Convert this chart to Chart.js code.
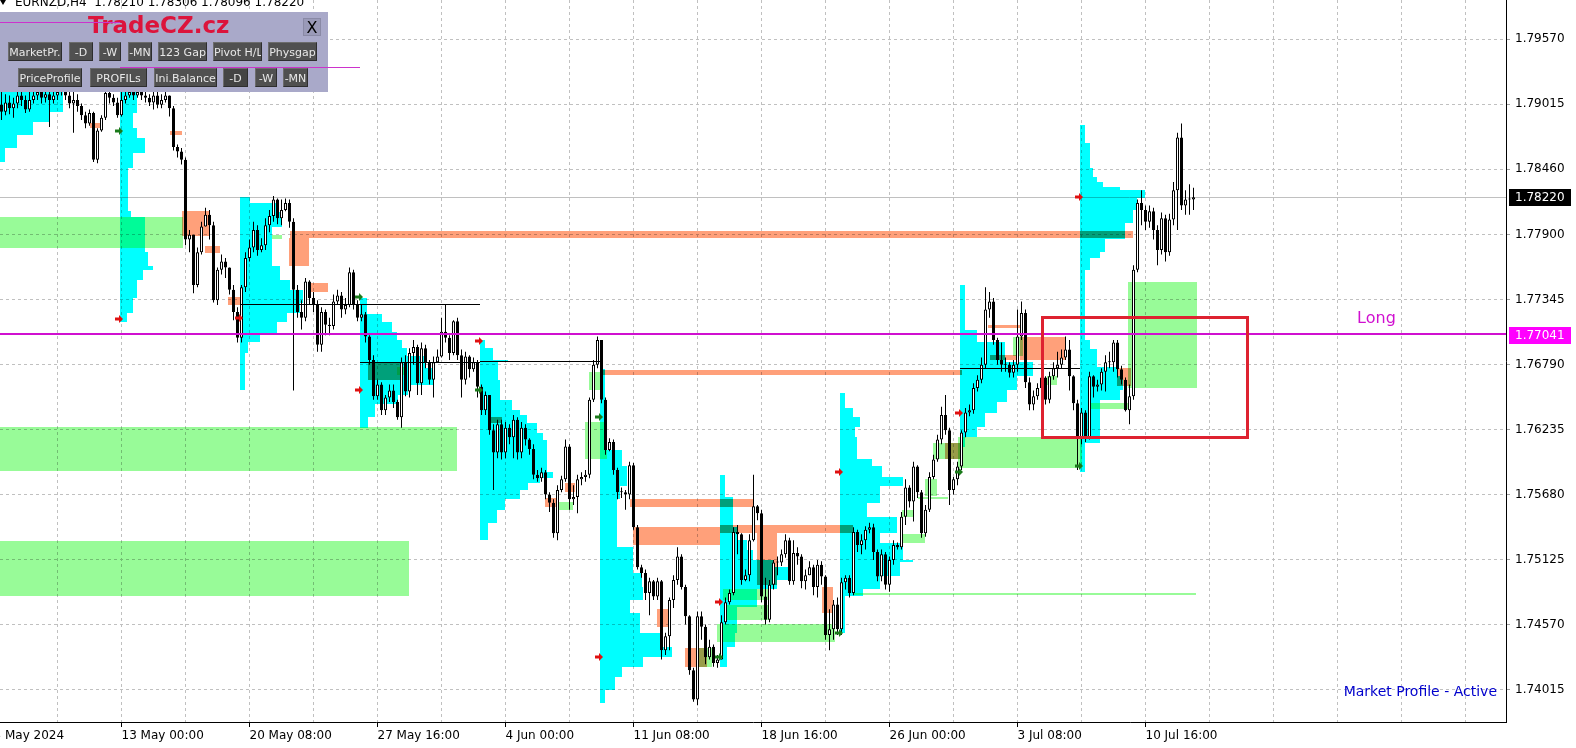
<!DOCTYPE html>
<html>
<head>
<meta charset="utf-8">
<script src="https://cdn.jsdelivr.net/npm/chart.js@4.4.1/dist/chart.umd.min.js"></script>
<style>
  html, body { margin: 0; padding: 0; background: #fff; overflow: hidden; }
  #wrap { position: relative; width: 1576px; height: 748px; }
  canvas { display: block; }
  #title { position: absolute; left: 15px; top: -5px; font: 12px "DejaVu Sans"; line-height: 14px; color: #000; white-space: pre; }
  #tri { position: absolute; left: 0; top: 0; width: 0; height: 0; border-left: 3px solid transparent; border-right: 3px solid transparent; border-top: 5px solid #000; }
  #panel { position: absolute; left: 0; top: 12px; width: 328px; height: 80px; background: #a9a9c9; }
  #brand { position: absolute; left: 88px; top: 0; font: bold 23px "DejaVu Sans"; line-height: 26px; color: #dc143c; }
  #close { position: absolute; left: 303px; top: 6px; width: 18px; height: 18px; background: #9a9ab8; border: 1px solid #8a8aa6; font: 16px "DejaVu Sans"; line-height: 18px; text-align: center; color: #000; box-sizing: border-box; }
  .btn { position: absolute; height: 19px; background: #505050; color: #e8e8e8; font: 11px "DejaVu Sans"; line-height: 19px; text-align: center; overflow: hidden; white-space: nowrap; box-sizing: border-box; border-top: 1px solid #6c6c6c; border-left: 1px solid #6c6c6c; border-bottom: 1px solid #2e2e2e; border-right: 1px solid #2e2e2e; }
  .wl { position: absolute; height: 1px; background: #cc33cc; }
  #mpa { position: absolute; right: 79px; top: 683px; font: 14px "DejaVu Sans"; line-height: 17px; color: #0000cd; }
</style>
</head>
<body>
<div id="wrap">
  <canvas id="chart" width="1576" height="748"></canvas>
  <div id="tri"></div>
  <div id="title">EURNZD,H4  1.78210 1.78306 1.78096 1.78220</div>
  <div id="panel">
    <div id="brand">TradeCZ.cz</div>
    <div id="close">X</div>
    <div class="btn" style="left:8px;top:30px;width:54px">MarketPr.</div>
    <div class="btn" style="left:69px;top:30px;width:24px">-D</div>
    <div class="btn" style="left:99px;top:30px;width:22px">-W</div>
    <div class="btn" style="left:128px;top:30px;width:24px">-MN</div>
    <div class="btn" style="left:158px;top:30px;width:49px">123 Gap</div>
    <div class="btn" style="left:213px;top:30px;width:49px">Pivot H/L</div>
    <div class="btn" style="left:268px;top:30px;width:49px">Physgap</div>
    <div class="btn" style="left:18px;top:56px;width:64px">PriceProfile</div>
    <div class="btn" style="left:90px;top:56px;width:57px">PROFILs</div>
    <div class="btn" style="left:154px;top:56px;width:63px">Ini.Balance</div>
    <div class="btn" style="left:223px;top:56px;width:25px;background:#444">-D</div>
    <div class="btn" style="left:255px;top:56px;width:22px">-W</div>
    <div class="btn" style="left:283px;top:56px;width:25px">-MN</div>
  </div>
  <div id="mpa">Market Profile - Active</div>
</div>
<script>
/* global Chart */

// EURNZD H4, one entry per bar (bar 0 = 6 May 00:00)
const firstOpen = 1.7901

const highs = [
  1.7912, 1.7910, 1.7909, 1.7907, 1.7914, 1.7912, 1.7909, 1.7912, 1.7915, 1.7917,
  1.7915, 1.7915, 1.7914, 1.7915, 1.7918, 1.7918, 1.7917, 1.7912, 1.7914, 1.7910,
  1.7902, 1.7895, 1.7897, 1.7895, 1.7881, 1.7892, 1.7914, 1.7915, 1.7910, 1.7907,
  1.7912, 1.7915, 1.7917, 1.7915, 1.7917, 1.7915, 1.7914, 1.7910, 1.7914, 1.7912,
  1.7910, 1.7915, 1.7909, 1.7900, 1.7867, 1.7864, 1.7856, 1.7794, 1.7790, 1.7779,
  1.7801, 1.7813, 1.7811, 1.7801, 1.7762, 1.7773, 1.7770, 1.7762, 1.7747, 1.7728,
  1.7747, 1.7775, 1.7786, 1.7801, 1.7798, 1.7787, 1.7804, 1.7811, 1.7823, 1.7821,
  1.7820, 1.7821, 1.7820, 1.7804, 1.7747, 1.7734, 1.7753, 1.7751, 1.7741, 1.7734,
  1.7728, 1.7726, 1.7719, 1.7739, 1.7743, 1.7741, 1.7736, 1.7762, 1.7760, 1.7734,
  1.7730, 1.7724, 1.7704, 1.7687, 1.7666, 1.7664, 1.7653, 1.7662, 1.7662, 1.7649,
  1.7685, 1.7687, 1.7693, 1.7700, 1.7696, 1.7698, 1.7696, 1.7683, 1.7686, 1.7692,
  1.7719, 1.7730, 1.7704, 1.7717, 1.7719, 1.7692, 1.7690, 1.7687, 1.7685, 1.7683,
  1.7662, 1.7656, 1.7653, 1.7628, 1.7632, 1.7632, 1.7630, 1.7628, 1.7636, 1.7634,
  1.7630, 1.7628, 1.7616, 1.7611, 1.7589, 1.7591, 1.7589, 1.7570, 1.7564, 1.7576,
  1.7584, 1.7615, 1.7611, 1.7576, 1.7585, 1.7587, 1.7589, 1.7651, 1.7683, 1.7703,
  1.7700, 1.7651, 1.7616, 1.7615, 1.7591, 1.7574, 1.7572, 1.7596, 1.7595, 1.7542,
  1.7508, 1.7504, 1.7497, 1.7495, 1.7497, 1.7495, 1.7450, 1.7480, 1.7499, 1.7523,
  1.7517, 1.7491, 1.7465, 1.7420, 1.7468, 1.7468, 1.7457, 1.7444, 1.7440, 1.7431,
  1.7465, 1.7480, 1.7487, 1.7540, 1.7542, 1.7535, 1.7504, 1.7534, 1.7585, 1.7559,
  1.7555, 1.7497, 1.7495, 1.7512, 1.7515, 1.7521, 1.7534, 1.7531, 1.7529, 1.7523,
  1.7517, 1.7504, 1.7511, 1.7508, 1.7512, 1.7511, 1.7499, 1.7470, 1.7478, 1.7480,
  1.7497, 1.7499, 1.7499, 1.7540, 1.7538, 1.7534, 1.7541, 1.7544, 1.7543, 1.7521,
  1.7521, 1.7519, 1.7515, 1.7529, 1.7527, 1.7553, 1.7581, 1.7576, 1.7596, 1.7593,
  1.7572, 1.7559, 1.7587, 1.7602, 1.7619, 1.7643, 1.7653, 1.7625, 1.7583, 1.7596,
  1.7623, 1.7642, 1.7645, 1.7663, 1.7670, 1.7685, 1.7745, 1.7741, 1.7736, 1.7702,
  1.7698, 1.7685, 1.7681, 1.7683, 1.7726, 1.7733, 1.7726, 1.7668, 1.7657, 1.7663,
  1.7673, 1.7669, 1.7673, 1.7681, 1.7690, 1.7692, 1.7703, 1.7700, 1.7670, 1.7649,
  1.7642, 1.7640, 1.7673, 1.7670, 1.7666, 1.7676, 1.7687, 1.7690, 1.7700, 1.7700,
  1.7678, 1.7668, 1.7662, 1.7764, 1.7820, 1.7828, 1.7815, 1.7815, 1.7813, 1.7798,
  1.7809, 1.7807, 1.7808, 1.7835, 1.7877, 1.7885, 1.7828, 1.7833, 1.7830
]

const lows = [
  1.7888, 1.7892, 1.7893, 1.7890, 1.7898, 1.7900, 1.7894, 1.7895, 1.7902, 1.7905,
  1.7902, 1.7903, 1.7882, 1.7902, 1.7905, 1.7909, 1.7905, 1.7898, 1.7877, 1.7895,
  1.7888, 1.7881, 1.7883, 1.7852, 1.7851, 1.7878, 1.7888, 1.7902, 1.7900, 1.7890,
  1.7891, 1.7902, 1.7907, 1.7905, 1.7907, 1.7905, 1.7903, 1.7900, 1.7897, 1.7898,
  1.7898, 1.7903, 1.7891, 1.7862, 1.7856, 1.7850, 1.7781, 1.7775, 1.7740, 1.7745,
  1.7773, 1.7798, 1.7786, 1.7732, 1.7730, 1.7756, 1.7753, 1.7739, 1.7717, 1.7698,
  1.7698, 1.7741, 1.7767, 1.7775, 1.7772, 1.7775, 1.7777, 1.7792, 1.7801, 1.7799,
  1.7798, 1.7810, 1.7796, 1.7657, 1.7719, 1.7709, 1.7716, 1.7730, 1.7724, 1.7690,
  1.7690, 1.7704, 1.7704, 1.7709, 1.7730, 1.7719, 1.7722, 1.7728, 1.7726, 1.7716,
  1.7716, 1.7698, 1.7679, 1.7649, 1.7649, 1.7636, 1.7636, 1.7647, 1.7642, 1.7632,
  1.7625, 1.7652, 1.7651, 1.7679, 1.7653, 1.7653, 1.7676, 1.7662, 1.7651, 1.7681,
  1.7685, 1.7698, 1.7683, 1.7687, 1.7683, 1.7651, 1.7662, 1.7668, 1.7673, 1.7651,
  1.7636, 1.7636, 1.7619, 1.7572, 1.7599, 1.7598, 1.7599, 1.7611, 1.7599, 1.7598,
  1.7599, 1.7610, 1.7602, 1.7581, 1.7579, 1.7579, 1.7564, 1.7553, 1.7531, 1.7529,
  1.7570, 1.7579, 1.7555, 1.7559, 1.7552, 1.7576, 1.7579, 1.7582, 1.7647, 1.7676,
  1.7646, 1.7602, 1.7605, 1.7585, 1.7564, 1.7565, 1.7555, 1.7564, 1.7538, 1.7504,
  1.7497, 1.7478, 1.7465, 1.7478, 1.7478, 1.7427, 1.7431, 1.7435, 1.7471, 1.7491,
  1.7487, 1.7457, 1.7414, 1.7391, 1.7388, 1.7444, 1.7423, 1.7427, 1.7421, 1.7420,
  1.7427, 1.7457, 1.7474, 1.7482, 1.7517, 1.7491, 1.7494, 1.7494, 1.7528, 1.7546,
  1.7476, 1.7457, 1.7459, 1.7487, 1.7499, 1.7507, 1.7514, 1.7491, 1.7491, 1.7508,
  1.7488, 1.7487, 1.7499, 1.7482, 1.7480, 1.7491, 1.7444, 1.7435, 1.7444, 1.7448,
  1.7448, 1.7487, 1.7480, 1.7482, 1.7519, 1.7517, 1.7521, 1.7535, 1.7512, 1.7494,
  1.7494, 1.7487, 1.7485, 1.7508, 1.7521, 1.7521, 1.7542, 1.7557, 1.7545, 1.7565,
  1.7531, 1.7532, 1.7553, 1.7581, 1.7596, 1.7611, 1.7619, 1.7559, 1.7568, 1.7576,
  1.7589, 1.7617, 1.7635, 1.7637, 1.7656, 1.7663, 1.7676, 1.7719, 1.7696, 1.7679,
  1.7673, 1.7673, 1.7668, 1.7668, 1.7673, 1.7700, 1.7659, 1.7640, 1.7640, 1.7649,
  1.7656, 1.7645, 1.7646, 1.7666, 1.7668, 1.7676, 1.7683, 1.7657, 1.7640, 1.7589,
  1.7611, 1.7613, 1.7615, 1.7651, 1.7656, 1.7657, 1.7656, 1.7676, 1.7673, 1.7668,
  1.7662, 1.7639, 1.7628, 1.7649, 1.7758, 1.7798, 1.7794, 1.7796, 1.7786, 1.7764,
  1.7773, 1.7767, 1.7772, 1.7798, 1.7794, 1.7811, 1.7807, 1.7807, 1.7811
]

const closes = [
  1.7895, 1.7903, 1.7898, 1.7902, 1.7909, 1.7905, 1.7897, 1.7905, 1.7909, 1.7912,
  1.7907, 1.7910, 1.7905, 1.7909, 1.7912, 1.7914, 1.7909, 1.7902, 1.7905, 1.7900,
  1.7892, 1.7885, 1.7894, 1.7854, 1.7879, 1.7890, 1.7911, 1.7907, 1.7903, 1.7892,
  1.7905, 1.7909, 1.7912, 1.7909, 1.7912, 1.7909, 1.7907, 1.7903, 1.7909, 1.7901,
  1.7905, 1.7909, 1.7898, 1.7865, 1.7861, 1.7854, 1.7786, 1.7790, 1.7747, 1.7775,
  1.7797, 1.7807, 1.7798, 1.7734, 1.7760, 1.7767, 1.7762, 1.7743, 1.7724, 1.7702,
  1.7745, 1.7770, 1.7779, 1.7794, 1.7777, 1.7781, 1.7798, 1.7806, 1.7820, 1.7804,
  1.7811, 1.7817, 1.7801, 1.7743, 1.7724, 1.7719, 1.7750, 1.7736, 1.7730, 1.7696,
  1.7724, 1.7713, 1.7712, 1.7733, 1.7738, 1.7726, 1.7730, 1.7758, 1.7730, 1.7719,
  1.7722, 1.7703, 1.7683, 1.7652, 1.7662, 1.7640, 1.7651, 1.7657, 1.7647, 1.7634,
  1.7681, 1.7656, 1.7689, 1.7694, 1.7663, 1.7693, 1.7681, 1.7666, 1.7681, 1.7686,
  1.7707, 1.7702, 1.7689, 1.7716, 1.7687, 1.7666, 1.7686, 1.7675, 1.7681, 1.7660,
  1.7640, 1.7653, 1.7623, 1.7604, 1.7628, 1.7604, 1.7625, 1.7617, 1.7632, 1.7604,
  1.7625, 1.7615, 1.7607, 1.7585, 1.7582, 1.7587, 1.7568, 1.7561, 1.7535, 1.7572,
  1.7581, 1.7609, 1.7564, 1.7566, 1.7581, 1.7583, 1.7585, 1.7649, 1.7679, 1.7700,
  1.7649, 1.7606, 1.7613, 1.7589, 1.7570, 1.7570, 1.7568, 1.7593, 1.7540, 1.7506,
  1.7501, 1.7484, 1.7494, 1.7481, 1.7494, 1.7435, 1.7447, 1.7478, 1.7495, 1.7515,
  1.7489, 1.7464, 1.7418, 1.7393, 1.7464, 1.7455, 1.7429, 1.7438, 1.7424, 1.7427,
  1.7459, 1.7476, 1.7484, 1.7536, 1.7534, 1.7495, 1.7499, 1.7529, 1.7558, 1.7552,
  1.7481, 1.7461, 1.7491, 1.7510, 1.7510, 1.7517, 1.7529, 1.7494, 1.7518, 1.7515,
  1.7494, 1.7499, 1.7506, 1.7489, 1.7508, 1.7498, 1.7448, 1.7453, 1.7474, 1.7453,
  1.7493, 1.7497, 1.7484, 1.7536, 1.7525, 1.7529, 1.7538, 1.7540, 1.7519, 1.7498,
  1.7517, 1.7491, 1.7512, 1.7525, 1.7523, 1.7549, 1.7574, 1.7562, 1.7592, 1.7570,
  1.7535, 1.7555, 1.7583, 1.7598, 1.7615, 1.7636, 1.7623, 1.7572, 1.7581, 1.7592,
  1.7621, 1.7638, 1.7640, 1.7659, 1.7666, 1.7679, 1.7726, 1.7733, 1.7700, 1.7683,
  1.7679, 1.7679, 1.7672, 1.7679, 1.7703, 1.7723, 1.7664, 1.7645, 1.7652, 1.7659,
  1.7668, 1.7649, 1.7669, 1.7676, 1.7679, 1.7685, 1.7692, 1.7669, 1.7646, 1.7616,
  1.7638, 1.7616, 1.7669, 1.7660, 1.7662, 1.7673, 1.7681, 1.7681, 1.7698, 1.7675,
  1.7666, 1.7640, 1.7652, 1.7760, 1.7817, 1.7811, 1.7801, 1.7810, 1.7794, 1.7777,
  1.7804, 1.7775, 1.7803, 1.7828, 1.7873, 1.7815, 1.7820, 1.7820, 1.7822
]

// time axis: bar index of each label
const timeLabelBars = [-2, 30, 62, 94, 126, 158, 190, 222, 254, 286]
const timeLabels = ['3 May 2024', '13 May 00:00', '20 May 08:00', '27 May 16:00', '4 Jun 00:00',
  '11 Jun 08:00', '18 Jun 16:00', '26 Jun 00:00', '3 Jul 08:00', '10 Jul 16:00']
const priceTicks = [1.74015, 1.74570, 1.75125, 1.75680, 1.76235, 1.76790, 1.77345, 1.77900, 1.78460, 1.79015, 1.79570]

const bidPrice = 1.78220
const longLevel = 1.77041

// zones: [fromBar, toBar, priceTop, priceBottom]
const greenZones = [
  [-1, 45.4, 1.7805, 1.7779], [-1, 113.9, 1.7626, 1.7588], [-1, 101.9, 1.7528, 1.7481],
  [281.6, 298.9, 1.7750, 1.7659], [239.1, 270.1, 1.7617, 1.7591], [271.6, 281.6, 1.7646, 1.7641],
  [180.4, 192.1, 1.7487, 1.7478], [181.4, 192.1, 1.7474, 1.7461], [178.9, 208.4, 1.7457, 1.7442],
  [173.9, 177.6, 1.7437, 1.7421], [212.9, 298.6, 1.7484, 1.7482], [224.6, 230.9, 1.7534, 1.7527],
  [225.1, 227.9, 1.7555, 1.7549], [230.9, 233.9, 1.7581, 1.7567], [229.1, 236.6, 1.7566, 1.7564],
  [232.9, 239.6, 1.7612, 1.7598], [145.9, 151.4, 1.7630, 1.7598], [146.9, 149.6, 1.7673, 1.7657],
  [138.9, 142.9, 1.7562, 1.7555], [67.6, 70.1, 1.7790, 1.7786], [252.9, 255.4, 1.7703, 1.7686],
  [261.4, 263.9, 1.7669, 1.7662], [98.9, 101.4, 1.7677, 1.7670]
]
const salmonZones = [
  [72.1, 282.9, 1.7793, 1.7787], [71.9, 76.9, 1.7787, 1.7763], [45.1, 52.1, 1.7810, 1.7789],
  [50.9, 54.6, 1.7780, 1.7774], [76.9, 81.6, 1.7749, 1.7741], [149.6, 240.1, 1.7674, 1.7670],
  [157.1, 187.9, 1.7564, 1.7557], [157.9, 179.6, 1.7540, 1.7525], [179.6, 212.9, 1.7542, 1.7535],
  [188.9, 193.9, 1.7535, 1.7491], [42.1, 45.1, 1.7879, 1.7875], [22.1, 24.6, 1.7885, 1.7881],
  [56.6, 59.6, 1.7737, 1.7730], [135.9, 138.9, 1.7565, 1.7557], [140.9, 143.4, 1.7578, 1.7570],
  [170.9, 176.4, 1.7437, 1.7421], [163.9, 166.6, 1.7470, 1.7455], [205.1, 207.9, 1.7489, 1.7467],
  [235.9, 239.6, 1.7612, 1.7598], [246.6, 254.6, 1.7713, 1.7710], [254.6, 265.9, 1.7703, 1.7683],
  [247.1, 253.9, 1.7687, 1.7683], [278.9, 282.4, 1.7676, 1.7661], [91.6, 99.6, 1.7681, 1.7666],
  [121.6, 125.1, 1.7634, 1.7629]
]

// weekly market profiles: start bar, then [priceTop, priceBottom, widthInBars]
const profStart = [0, 30, 60, 90, 120, 150, 180, 210, 240, 270]
const profBands = [
  [[1.7922, 1.7895, 15.8], [1.7895, 1.7886, 12.5], [1.7886, 1.7875, 8.3], [1.7875, 1.7864, 4.3], [1.7864, 1.7852, 1.3]],
  [[1.7918, 1.7894, 4.3], [1.7894, 1.7881, 3.3], [1.7881, 1.7873, 4.3], [1.7873, 1.7860, 6.3], [1.7860, 1.7847, 3.3],
    [1.7847, 1.7810, 2], [1.7810, 1.7805, 2.8], [1.7805, 1.7775, 6.3], [1.7775, 1.7763, 7], [1.7763, 1.7760, 8.3],
    [1.7760, 1.7751, 5.8], [1.7751, 1.7736, 4.3], [1.7736, 1.7723, 3.3], [1.7723, 1.7715, 1.8]],
  [[1.7822, 1.7817, 2.5], [1.7817, 1.7809, 9.3], [1.7809, 1.7797, 10.5], [1.7797, 1.7763, 8], [1.7763, 1.7751, 10],
    [1.7751, 1.7743, 12.5], [1.7743, 1.7732, 15.8], [1.7732, 1.7723, 15], [1.7723, 1.7715, 11.8], [1.7715, 1.7706, 9.3],
    [1.7706, 1.7698, 5], [1.7698, 1.7689, 2], [1.7689, 1.7657, 1.3]],
  [[1.7736, 1.7722, 1.8], [1.7722, 1.7715, 5.5], [1.7715, 1.7707, 8], [1.7707, 1.7700, 9.3], [1.7700, 1.7693, 10.5],
    [1.7693, 1.7686, 11.8], [1.7686, 1.7676, 16.3], [1.7676, 1.7662, 18.3], [1.7662, 1.7653, 12], [1.7653, 1.7645, 9.5],
    [1.7645, 1.7634, 3.8], [1.7634, 1.7625, 2]],
  [[1.7700, 1.7693, 1.3], [1.7693, 1.7683, 3.3], [1.7683, 1.7681, 7], [1.7681, 1.7666, 4.5], [1.7666, 1.7649, 5],
    [1.7649, 1.7640, 8], [1.7640, 1.7636, 10], [1.7636, 1.7629, 11.8], [1.7629, 1.7621, 14.3], [1.7621, 1.7615, 15.8],
    [1.7615, 1.7587, 16.8], [1.7587, 1.7582, 18.3], [1.7582, 1.7578, 15], [1.7578, 1.7572, 12], [1.7572, 1.7564, 10],
    [1.7564, 1.7555, 6.3], [1.7555, 1.7544, 4.3], [1.7544, 1.7529, 2]],
  [[1.7675, 1.7649, 1.3], [1.7649, 1.7632, 1.8], [1.7632, 1.7606, 1], [1.7606, 1.7592, 5.5], [1.7592, 1.7575, 6.8],
    [1.7575, 1.7564, 5], [1.7564, 1.7523, 4.3], [1.7523, 1.7501, 8.3], [1.7501, 1.7489, 10.5], [1.7489, 1.7478, 10.8],
    [1.7478, 1.7467, 7.5], [1.7467, 1.7450, 10], [1.7450, 1.7438, 15], [1.7438, 1.7429, 18], [1.7429, 1.7421, 10.8],
    [1.7421, 1.7412, 5.5], [1.7412, 1.7401, 3.8], [1.7401, 1.7390, 1.3]],
  [[1.7585, 1.7566, 1.3], [1.7566, 1.7540, 3.3], [1.7540, 1.7529, 4.3], [1.7529, 1.7521, 6.8], [1.7521, 1.7512, 8.3],
    [1.7512, 1.7506, 13.3], [1.7506, 1.7495, 17.5], [1.7495, 1.7487, 14.3], [1.7487, 1.7472, 9.3], [1.7472, 1.7450, 4.3],
    [1.7450, 1.7438, 3.8], [1.7438, 1.7421, 1.8]],
  [[1.7655, 1.7642, 1.3], [1.7642, 1.7634, 3.3], [1.7634, 1.7626, 5], [1.7626, 1.7617, 3.8], [1.7617, 1.7598, 4.3],
    [1.7598, 1.7592, 8], [1.7592, 1.7583, 10.5], [1.7583, 1.7575, 15.8], [1.7575, 1.7561, 10], [1.7561, 1.7549, 6.8],
    [1.7549, 1.7535, 14.3], [1.7535, 1.7527, 10], [1.7527, 1.7512, 15.8], [1.7512, 1.7510, 18.3], [1.7510, 1.7498, 15],
    [1.7498, 1.7487, 10], [1.7487, 1.7481, 5.8], [1.7481, 1.7450, 1.3]],
  [[1.7747, 1.7709, 1.3], [1.7709, 1.7698, 4.3], [1.7698, 1.7681, 11.3], [1.7681, 1.7669, 18.3], [1.7669, 1.7657, 14.3],
    [1.7657, 1.7647, 11.8], [1.7647, 1.7638, 9.3], [1.7638, 1.7626, 6.3], [1.7626, 1.7617, 4.3], [1.7617, 1.7609, 1.3]],
  [[1.7884, 1.7868, 1.3], [1.7868, 1.7847, 2.5], [1.7847, 1.7839, 3.3], [1.7839, 1.7835, 4.3], [1.7835, 1.7831, 5.8],
    [1.7831, 1.7828, 10], [1.7828, 1.7821, 16.3], [1.7821, 1.7811, 14.3], [1.7811, 1.7800, 13.3], [1.7800, 1.7786, 11.3],
    [1.7786, 1.7775, 6.3], [1.7775, 1.7770, 5], [1.7770, 1.7760, 2.5], [1.7760, 1.7700, 1.3], [1.7700, 1.7692, 2.5],
    [1.7692, 1.7677, 4.3], [1.7677, 1.7669, 9.3], [1.7669, 1.7657, 10.8], [1.7657, 1.7649, 10], [1.7649, 1.7612, 5],
    [1.7612, 1.7587, 1.3]]
]

// [fromBar, toBar, price]
const blackLines = [[59.6, 119.6, 1.7731], [89.6, 119.6, 1.7681], [119.6, 149.6, 1.7682], [239.6, 269.6, 1.7676]]
const weekLines = [[-0.4, 29.6, 1.7972], [29.6, 89.6, 1.7933]]
// week-start arrows: [weekBar, price]
const redArrows = [[30, 1.7718], [60, 1.7719], [90, 1.7657], [120, 1.7699], [150, 1.7429], [180, 1.7476], [210, 1.7587], [240, 1.7638], [270, 1.7822]]
const greenArrows = [[30, 1.7879], [90, 1.7737], [120, 1.7657], [150, 1.7634], [180, 1.7429], [210, 1.7450], [240, 1.7587], [270, 1.7592]]
const redBox = [260.1, 311.4, 1.7720, 1.7617]
const longText = [338.9, 1.7718]

const opens = closes.map((c, i) => i === 0 ? firstOpen : closes[i - 1])
const gridBars = [...Array(24)].map((_, n) => -2 + 16 * n)

const overlay = {
  id: 'overlay',
  beforeDraw (chart) {
    const { ctx, width, height } = chart
    ctx.save()
    ctx.fillStyle = '#fff'
    ctx.fillRect(0, 0, width, height)
    ctx.restore()
  },
  beforeDatasetsDraw (chart) {
    const { ctx, chartArea: a, scales: { x, y } } = chart
    const box = (x1, x2, p1, p2, col) => {
      const l = Math.round(x.getPixelForValue(x1))
      const r = Math.round(x.getPixelForValue(x2))
      const t = Math.round(y.getPixelForValue(p1))
      const b = Math.round(y.getPixelForValue(p2))
      ctx.fillStyle = col
      ctx.fillRect(l, t, r - l, b - t)
    }
    ctx.save()
    ctx.beginPath()
    ctx.rect(a.left, a.top, a.width, a.height)
    ctx.clip()
    const by = Math.round(y.getPixelForValue(bidPrice)) + 0.5
    ctx.strokeStyle = '#c0c0c0'
    ctx.lineWidth = 1
    ctx.beginPath()
    ctx.moveTo(a.left, by)
    ctx.lineTo(a.right, by)
    ctx.stroke()
    ctx.globalCompositeOperation = 'multiply'
    greenZones.forEach(z => box(...z, '#98fb98'))
    profStart.forEach((s, k) => profBands[k].forEach(([hi, lo, w]) => box(s - 0.375, s - 0.375 + w, hi, lo, '#00ffff')))
    salmonZones.forEach(z => box(...z, '#ffa07a'))
    ctx.restore()
  },
  afterDatasetsDraw (chart) {
    const { ctx, chartArea: a, scales: { x, y } } = chart
    const X = v => x.getPixelForValue(v)
    const Y = v => y.getPixelForValue(v)
    ctx.save()
    ctx.beginPath()
    ctx.rect(a.left, a.top, a.width, a.height)
    ctx.clip()
    ctx.strokeStyle = '#000'
    ctx.lineWidth = 1
    blackLines.forEach(([b1, b2, p]) => {
      const py = Math.round(Y(p)) + 0.5
      ctx.beginPath()
      ctx.moveTo(Math.round(X(b1)), py)
      ctx.lineTo(Math.round(X(b2)), py)
      ctx.stroke()
    })
    // long level line
    const ly = Math.round(Y(longLevel))
    ctx.strokeStyle = '#d010d0'
    ctx.lineWidth = 2
    ctx.beginPath()
    ctx.moveTo(a.left, ly - 1)
    ctx.lineTo(a.right, ly - 1)
    ctx.stroke()
    // red box
    ctx.strokeStyle = '#de2230'
    ctx.lineWidth = 3
    const l = Math.round(X(redBox[0])); const r = Math.round(X(redBox[1]))
    const t = Math.round(Y(redBox[2])); const b = Math.round(Y(redBox[3]))
    ctx.strokeRect(l + 0.5, t + 0.5, r - l, b - t)
    // week arrows
    const arrow = (s, p, col) => {
      const cx = Math.round(X(s - 0.625)); const cy = Math.round(Y(p))
      ctx.fillStyle = col
      ctx.beginPath()
      ctx.moveTo(cx - 4, cy - 1.5); ctx.lineTo(cx, cy - 1.5); ctx.lineTo(cx, cy - 4)
      ctx.lineTo(cx + 4, cy); ctx.lineTo(cx, cy + 4); ctx.lineTo(cx, cy + 1.5); ctx.lineTo(cx - 4, cy + 1.5)
      ctx.closePath()
      ctx.fill()
    }
    redArrows.forEach(([s, p]) => arrow(s, p, '#e01010'))
    greenArrows.forEach(([s, p]) => arrow(s, p, '#1a7a1a'))
    ctx.fillStyle = '#d010d0'
    ctx.font = '16px "DejaVu Sans"'
    ctx.textAlign = 'left'
    ctx.textBaseline = 'middle'
    ctx.fillText('Long', X(longText[0]), Y(longText[1]))
    ctx.restore()
  },
  afterDraw (chart) {
    const { ctx, chartArea: a, scales: { y } } = chart
    const tag = (p, bg) => {
      const cy = Math.round(y.getPixelForValue(p))
      ctx.fillStyle = bg
      ctx.fillRect(a.right + 3, cy - 8, 62, 17)
      ctx.fillStyle = '#fff'
      ctx.font = '12px "DejaVu Sans"'
      ctx.textBaseline = 'middle'
      ctx.textAlign = 'left'
      ctx.fillText(p.toFixed(5), a.right + 9, cy + 1)
    }
    ctx.save()
    tag(bidPrice, '#000')
    tag(longLevel, '#ff00ff')
    ctx.restore()
  }
}

const chart = new Chart(document.getElementById('chart'), {
  type: 'bar',
  data: {
    datasets: [
      {
        data: closes.map((c, i) => ({ x: i, y: [opens[i], c] })),
        backgroundColor: closes.map((c, i) => c >= opens[i] ? '#fff' : '#000'),
        borderColor: '#000',
        borderWidth: 1,
        borderSkipped: false,
        barThickness: 3,
        minBarLength: 1,
        inflateAmount: 0,
        grouped: false
      },
      {
        data: highs.map((h, i) => ({ x: i, y: [Math.min(lows[i], opens[i], closes[i]), Math.max(h, opens[i], closes[i])] })),
        backgroundColor: '#000',
        borderWidth: 0,
        barThickness: 1,
        inflateAmount: 0,
        grouped: false
      }
    ]
  },
  options: {
    responsive: false,
    maintainAspectRatio: false,
    devicePixelRatio: 1,
    animation: false,
    events: [],
    layout: { padding: 0 },
    plugins: { legend: { display: false }, tooltip: { enabled: false } },
    scales: {
      x: {
        type: 'linear',
        min: -0.375,
        max: 376.125,
        offset: false,
        grid: {
          offset: false,
          color: '#c0c0c0',
          tickLength: 5,
          tickColor: c => timeLabelBars.includes(c.tick && c.tick.value) ? '#000' : 'rgba(0,0,0,0)'
        },
        border: { color: '#000', width: 1, dash: [3, 3] },
        afterBuildTicks: s => { s.ticks = gridBars.map(v => ({ value: v })) },
        afterFit: s => { s.height = 26; s.paddingLeft = 0; s.paddingRight = 0 },
        ticks: {
          autoSkip: false,
          maxRotation: 0,
          align: 'start',
          padding: 2,
          color: '#000',
          font: { family: 'DejaVu Sans', size: 12 },
          callback: v => {
            const k = timeLabelBars.indexOf(v)
            return k < 0 ? '' : timeLabels[k]
          }
        }
      },
      y: {
        type: 'linear',
        position: 'right',
        min: 1.73737,
        max: 1.79905,
        grid: { color: '#c0c0c0', tickLength: 4, tickColor: '#a0a0a0' },
        border: { color: '#000', width: 1, dash: [3, 3] },
        afterBuildTicks: s => { s.ticks = priceTicks.map(v => ({ value: v })) },
        afterFit: s => { s.width = 70; s.paddingTop = 0; s.paddingBottom = 0 },
        ticks: {
          autoSkip: false,
          padding: 5,
          color: '#000',
          font: { family: 'DejaVu Sans', size: 12 },
          callback: v => v.toFixed(5)
        }
      }
    }
  },
  plugins: [overlay]
})

// weekly level lines sit above the indicator panel
const wrap = document.getElementById('wrap')
weekLines.forEach(([b1, b2, p]) => {
  const d = document.createElement('div')
  d.className = 'wl'
  const l = Math.max(0, Math.round(chart.scales.x.getPixelForValue(b1)))
  d.style.left = l + 'px'
  d.style.width = (Math.round(chart.scales.x.getPixelForValue(b2)) - l) + 'px'
  d.style.top = Math.round(chart.scales.y.getPixelForValue(p)) + 'px'
  wrap.appendChild(d)
})
</script>
</body>
</html>
